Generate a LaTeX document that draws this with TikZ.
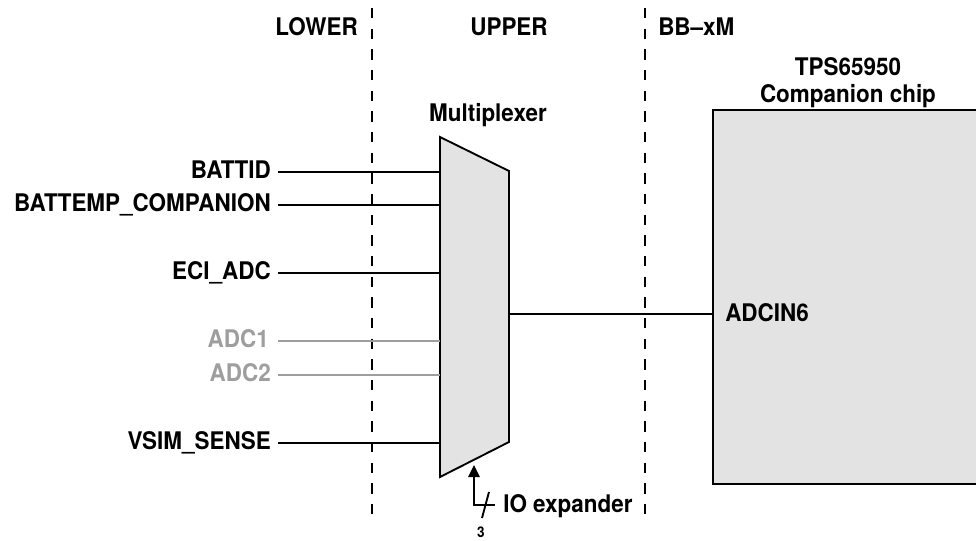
\documentclass[tikz,border=0pt]{standalone}
\usepackage{fontspec}
\setmainfont[FakeStretch=0.925]{TeX Gyre Heros}
\usetikzlibrary{arrows.meta}
\tikzset{
 lbl/.style={font=\fontsize{18.2}{20}\selectfont\bfseries,inner sep=0pt},
 wire/.style={line width=1.4pt,black},
 graywire/.style={line width=1.4pt,black!38},
 divider/.style={line width=1.4pt,dash pattern=on 7.7pt off 7.8pt},
}
\begin{document}
\begin{tikzpicture}
\useasboundingbox (0,0) rectangle (732pt,405pt);
\fill[white] (0,0) rectangle (732pt,405pt);
\begin{scope}[x=0.75pt,y=-0.75pt,shift={(0,-540)}]
\coordinate (d1a) at (372,8); \coordinate (d1b) at (372,515);
\coordinate (d2a) at (645,8); \coordinate (d2b) at (645,515);
\draw[divider] (d1a) -- (d1b);
\draw[divider] (d2a) -- (d2b);
\node[lbl,anchor=base east] (lower) at (358,36) {LOWER};
\node[lbl,anchor=base] (upper) at (509,36) {UPPER};
\node[lbl,anchor=base west] (bb) at (658,36) {BB--xM};
\node[lbl,anchor=base] (mux) at (488,122) {Multiplexer};
\node[lbl,anchor=base] (t1) at (848,76) {TPS65950};
\node[lbl,anchor=base] (t2) at (848,103) {Companion chip};
\draw[wire,fill=black!11] (440,137) coordinate (m1) -- (509,171) coordinate (m2) -- (509,442) coordinate (m3) -- (440,477) coordinate (m4) -- cycle;
\draw[wire,fill=black!11] (713,110) rectangle (978,484);
\coordinate (chip) at (713,314);
\coordinate (mo) at (509,314);
\draw[wire] (mo) -- (chip);
\node[lbl,anchor=base west] (adc) at (725,322) {ADCIN6};
\node[lbl,anchor=base east] (n1) at (271,179) {BATTID};
\node[lbl,anchor=base east] (n2) at (271,212) {BATTEMP\_COMPANION};
\node[lbl,anchor=base east] (n3) at (271,280) {ECI\_ADC};
\node[lbl,anchor=base east,text=black!38] (n4) at (269,348) {ADC1};
\node[lbl,anchor=base east,text=black!38] (n5) at (271,382) {ADC2};
\node[lbl,anchor=base east] (n6) at (271,450) {VSIM\_SENSE};
\coordinate (s1) at (278,172);\coordinate (s2) at (278,205);\coordinate (s3) at (278,273);
\coordinate (s4) at (278,341);\coordinate (s5) at (278,375);\coordinate (s6) at (278,443);
\coordinate (i1) at (440,172);\coordinate (i2) at (440,205);\coordinate (i3) at (440,273);
\coordinate (i4) at (440,341);\coordinate (i5) at (440,375);\coordinate (i6) at (440,443);
\draw[wire] (s1) -- (i1);
\draw[wire] (s2) -- (i2);
\draw[wire] (s3) -- (i3);
\draw[graywire] (s4) -- (i4);
\draw[graywire] (s5) -- (i5);
\draw[wire] (s6) -- (i6);
\node[lbl,anchor=base west] (io) at (503,512) {IO expander};
\node[font=\fontsize{11}{12}\selectfont\bfseries,inner sep=0pt] (three) at (481,532) {3};
\coordinate (a0) at (475,465);
\coordinate (a1) at (474,505);
\coordinate (a2) at (495,505);
\draw[wire,-{Triangle[length=9pt,width=8.5pt]}] (a2) -- (a1) -- (a1 |- a0);
\coordinate (b1) at (482,518);
\coordinate (b2) at (489,492);
\draw[wire] (b1) -- (b2);
\end{scope}
\end{tikzpicture}
\end{document}
